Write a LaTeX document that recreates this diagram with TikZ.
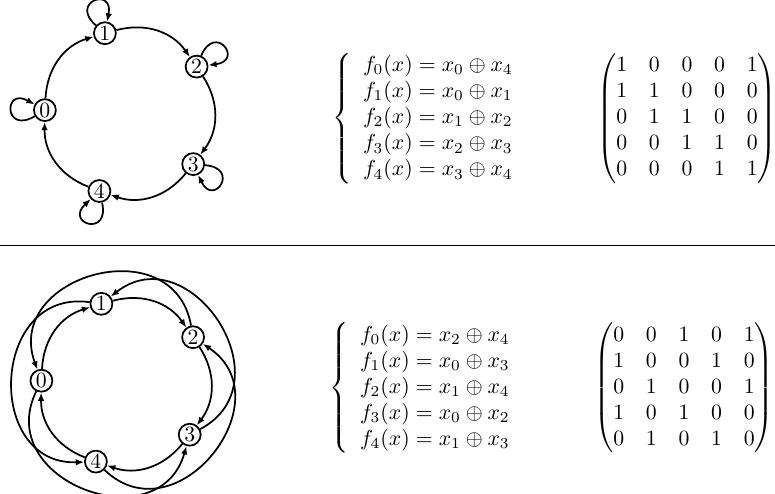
\documentclass[tikz,border=0pt]{standalone}
\usepackage{amsmath}
\usetikzlibrary{arrows.meta}

\tikzset{every picture/.style={line width=0.8pt}}
\tikzset{
  vtx/.style={circle,draw,fill=white,inner sep=0.7pt},
  skip/.style={->,looseness=1.6},
  >={Latex[length=3.8pt,width=3pt]}
}

\begin{document}
\begin{tikzpicture}[x=0.46pt,y=0.46pt]
\useasboundingbox (0,0) rectangle (775,493);

%Shape: Graph (top)
\node[vtx] (t0) at (44.9,382.9) {$0$};
\node[vtx] (t1) at (104.9,459.8) {$1$};
\node[vtx] (t2) at (196.6,426.4) {$2$};
\node[vtx] (t3) at (193.2,328.9) {$3$};
\node[vtx] (t4) at (99.4,302.0) {$4$};
%Curve Lines
\draw[->] (t0) to[bend left=35] (t1);
\draw[->] (t1) to[bend left=35] (t2);
\draw[->] (t2) to[bend left=35] (t3);
\draw[->] (t3) to[bend left=35] (t4);
\draw[->] (t4) to[bend left=35] (t0);
%Loops
\draw[->] (t0.211) .. controls +(211:36) and +(151:36) .. (t0.151);
\draw[->] (t1.139) .. controls +(139:36) and +(79:36) .. (t1.79);
\draw[->] (t2.67) .. controls +(67:36) and +(7:36) .. (t2.7);
\draw[->] (t3.-5) .. controls +(-5:36) and +(-65:36) .. (t3.-65);
\draw[->] (t4.-77) .. controls +(-77:36) and +(-137:36) .. (t4.-137);

% Text Node
\node[anchor=west,inner sep=0pt] (eqtop) at (332,374.5) {$\left\{\begin{array}{l}
  f_0(x)=x_0\oplus x_4\\
  f_1(x)=x_0\oplus x_1\\
  f_2(x)=x_1\oplus x_2\\
  f_3(x)=x_2\oplus x_3\\
  f_4(x)=x_3\oplus x_4
\end{array}\right.$};
% Text Node
\node[inner sep=0pt] (mtop) at (687,374.5) {$\begin{pmatrix}
  1&0&0&0&1\\
  1&1&0&0&0\\
  0&1&1&0&0\\
  0&0&1&1&0\\
  0&0&0&1&1
\end{pmatrix}$};

%Straight Lines
\draw[line width=0.4pt] (0,248) -- (775,248);

%Shape: Graph (bottom)
\node[vtx] (b0) at (41.4,112.3) {$0$};
\node[vtx] (b1) at (101.4,189.2) {$1$};
\node[vtx] (b2) at (193.1,155.8) {$2$};
\node[vtx] (b3) at (189.7,58.3) {$3$};
\node[vtx] (b4) at (95.9,31.4) {$4$};
%Curve Lines
\draw[->] (b0) to[bend left=35] (b1);
\draw[->] (b1) to[bend left=35] (b2);
\draw[->] (b2) to[bend left=35] (b3);
\draw[->] (b3) to[bend left=35] (b4);
\draw[->] (b4) to[bend left=35] (b0);
%Curve Lines (outer)
\draw[skip] (b2) to[out=100,in=110] (b0);
\draw[skip] (b3) to[out=28,in=38] (b1);
\draw[skip] (b4) to[out=-44,in=-34] (b2);
\draw[skip] (b0) to[out=244,in=254] (b3);
\draw[skip] (b1) to[out=172,in=182] (b4);

% Text Node
\node[anchor=west,inner sep=0pt] (eqbot) at (329,105) {$\left\{\begin{array}{l}
  f_0(x)=x_2\oplus x_4\\
  f_1(x)=x_0\oplus x_3\\
  f_2(x)=x_1\oplus x_4\\
  f_3(x)=x_0\oplus x_2\\
  f_4(x)=x_1\oplus x_3
\end{array}\right.$};
% Text Node
\node[inner sep=0pt] (mbot) at (684,105) {$\begin{pmatrix}
  0&0&1&0&1\\
  1&0&0&1&0\\
  0&1&0&0&1\\
  1&0&1&0&0\\
  0&1&0&1&0
\end{pmatrix}$};

\end{tikzpicture}
\end{document}
